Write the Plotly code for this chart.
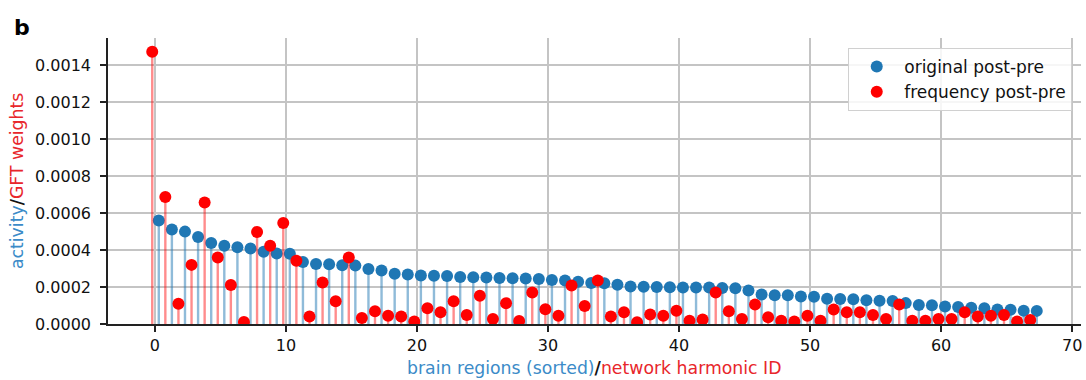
import plotly.graph_objects as go

# Region activity (sorted, descending) and GFT weights per network harmonic
region_index = list(range(68))
original_post_pre = [
    0.000560, 0.000512, 0.000500, 0.000471, 0.000438, 0.000423, 0.000416, 0.000409,
    0.000391, 0.000381, 0.000380, 0.000336, 0.000325, 0.000323, 0.000318, 0.000316,
    0.000298, 0.000290, 0.000272, 0.000268, 0.000262, 0.000261, 0.000260, 0.000255,
    0.000253, 0.000252, 0.000249, 0.000248, 0.000246, 0.000243, 0.000238, 0.000236,
    0.000229, 0.000222, 0.000220, 0.000212, 0.000203, 0.000201, 0.000200, 0.000199,
    0.000198, 0.000198, 0.000197, 0.000195, 0.000193, 0.000181, 0.000160, 0.000156,
    0.000155, 0.000149, 0.000148, 0.000137, 0.000135, 0.000134, 0.000128, 0.000126,
    0.000125, 0.000113, 0.000103, 0.000101, 0.000095, 0.000092, 0.000088, 0.000085,
    0.000079, 0.000077, 0.000072, 0.000071,
]
frequency_post_pre = [
    0.001474, 0.000687, 0.000109, 0.000320, 0.000658, 0.000360, 0.000211, 0.000011,
    0.000498, 0.000423, 0.000547, 0.000342, 0.000040, 0.000225, 0.000123, 0.000360,
    0.000033, 0.000069, 0.000045, 0.000040, 0.000014, 0.000085, 0.000063, 0.000123,
    0.000049, 0.000153, 0.000027, 0.000112, 0.000016, 0.000170, 0.000080, 0.000045,
    0.000209, 0.000098, 0.000236, 0.000040, 0.000063, 0.000009, 0.000051, 0.000045,
    0.000072, 0.000018, 0.000024, 0.000170, 0.000069, 0.000027, 0.000106, 0.000036,
    0.000018, 0.000014, 0.000045, 0.000018, 0.000078, 0.000063, 0.000063, 0.000049,
    0.000027, 0.000106, 0.000018, 0.000018, 0.000027, 0.000027, 0.000063, 0.000040,
    0.000045, 0.000049, 0.000014, 0.000022,
]
y_ticks = [0.0, 0.0002, 0.0004, 0.0006, 0.0008, 0.0010, 0.0012, 0.0014]
x_ticks = [0, 10, 20, 30, 40, 50, 60, 70]

FONT = "DejaVu Sans"
BLUE = "#1f77b4"
RED = "#ff0000"
BLUE_STEM = "rgba(31,119,180,0.5)"
RED_STEM = "rgba(255,0,0,0.45)"
BLUE_TXT = "#3b8bc8"
RED_TXT = "#e8262b"

# small horizontal shift so the two stem series sit side by side
BLUE_SHIFT = 0.3
RED_SHIFT = -0.2


def stems(xs, ys):
    sx, sy = [], []
    for x, y in zip(xs, ys):
        sx += [x, x, None]
        sy += [0, y, None]
    return sx, sy


bx = [i + BLUE_SHIFT for i in region_index]
rx = [i + RED_SHIFT for i in region_index]

fig = go.Figure()
sx, sy = stems(bx, original_post_pre)
fig.add_trace(go.Scatter(x=sx, y=sy, mode="lines", line=dict(color=BLUE_STEM, width=2.4),
                         showlegend=False, hoverinfo="skip"))
fig.add_trace(go.Scatter(x=bx, y=original_post_pre, mode="markers", name="original post-pre",
                         marker=dict(color=BLUE, size=12)))
sx, sy = stems(rx, frequency_post_pre)
fig.add_trace(go.Scatter(x=sx, y=sy, mode="lines", line=dict(color=RED_STEM, width=2.4),
                         showlegend=False, hoverinfo="skip"))
fig.add_trace(go.Scatter(x=rx, y=frequency_post_pre, mode="markers", name="frequency post-pre",
                         marker=dict(color=RED, size=12)))

axis_common = dict(
    showline=True, linecolor="#222222", linewidth=1.5,
    ticks="outside", ticklen=6, tickwidth=1.5, tickcolor="#222222",
    showgrid=True, gridcolor="#c4c4c4", gridwidth=1.5,
    zeroline=False, tickfont=dict(family=FONT, size=16, color="#111111"),
    mirror=False,
)

fig.update_layout(
    width=1086, height=380,
    margin=dict(l=108, r=5, t=38, b=56),
    paper_bgcolor="white", plot_bgcolor="white",
    font=dict(family=FONT, size=16, color="#111111"),
    xaxis=dict(range=[-3.575, 70.675], tickvals=x_ticks, **axis_common),
    yaxis=dict(range=[0, 0.001548], tickvals=y_ticks, tickformat=".4f",
               ticklabelstandoff=6, **axis_common),
    legend=dict(
        x=0.991, y=0.965, xanchor="right", yanchor="top",
        bgcolor="rgba(255,255,255,0.85)", bordercolor="#d0d0d0", borderwidth=1,
        font=dict(family=FONT, size=17, color="#111111"),
        tracegroupgap=0, itemwidth=45,
    ),
    showlegend=True,
)

fig.add_annotation(
    xref="paper", yref="paper", x=(17 - 108) / 973.5, y=0.5,
    xanchor="center", yanchor="middle", textangle=-90, showarrow=False,
    text=f"<span style='color:{BLUE_TXT}'>activity</span><b>/</b>"
         f"<span style='color:{RED_TXT}'>GFT weights</span>",
    font=dict(family=FONT, size=17.3),
)
fig.add_annotation(
    xref="paper", yref="paper", x=0.5, y=(324 - 368) / 286,
    xanchor="center", yanchor="middle", showarrow=False,
    text=f"<span style='color:{BLUE_TXT}'>brain regions (sorted)</span><b>/</b>"
         f"<span style='color:{RED_TXT}'>network harmonic ID</span>",
    font=dict(family=FONT, size=17.3),
)
fig.add_annotation(
    xref="paper", yref="paper", x=(22 - 108) / 973.5, y=(324 - 28) / 286,
    xanchor="center", yanchor="middle", showarrow=False,
    text="<b>b</b>", font=dict(family=FONT, size=22, color="#000000"),
)

fig.write_html("out.html")
